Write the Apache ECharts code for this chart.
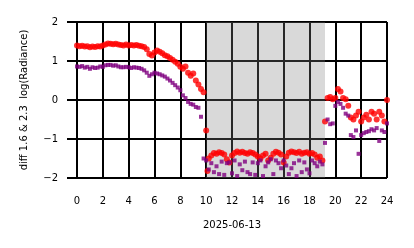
<!DOCTYPE html>
<html>
<head>
<meta charset="utf-8">
<script src="https://cdn.jsdelivr.net/npm/echarts@6/dist/echarts.min.js"></script>
<style>html,body{margin:0;padding:0;background:#fff}#c{width:414px;height:248px}</style>
</head>
<body>
<div id="c"></div>
<script>
const xAxisTitle = '2025-06-13';
const yAxisTitle = 'diff 1.6 & 2.3  log(Radiance)';
const xTicks = [0, 2, 4, 6, 8, 10, 12, 14, 16, 18, 20, 22, 24];
const yTicks = [-2, -1, 0, 1, 2];
const bandStart = 10;
const bandEnd = 19.2;

const hours = [0,0.2,0.4,0.6,0.8,1,1.2,1.4,1.6,1.8,2,2.2,2.4,2.6,2.8,3,3.2,3.4,3.6,3.8,4,4.2,4.4,4.6,4.8,5,5.2,5.4,5.6,5.8,6,6.2,6.4,6.6,6.8,7,7.2,7.4,7.6,7.8,8,8.2,8.4,8.6,8.8,9,9.2,9.4,9.6,9.8,10,10.2,10.4,10.6,10.8,11,11.2,11.4,11.6,11.8,12,12.2,12.4,12.6,12.8,13,13.2,13.4,13.6,13.8,14,14.2,14.4,14.6,14.8,15,15.2,15.4,15.6,15.8,16,16.2,16.4,16.6,16.8,17,17.2,17.4,17.6,17.8,18,18.2,18.4,18.6,18.8,19,19.2,19.4,19.6,19.8,20,20.2,20.4,20.6,20.8,21,21.2,21.4,21.6,21.8,22,22.2,22.4,22.6,22.8,23,23.2,23.4,23.6,23.8,24];

const red = [1.40,1.38,1.39,1.37,1.38,1.35,1.37,1.36,1.38,1.37,1.40,1.42,1.45,1.44,1.43,1.44,1.42,1.41,1.40,1.42,1.40,1.41,1.40,1.41,1.39,1.38,1.36,1.30,1.18,1.14,1.22,1.27,1.24,1.20,1.15,1.12,1.08,1.03,0.98,0.93,0.85,0.80,0.86,0.70,0.62,0.68,0.50,0.40,0.28,0.20,-0.78,-1.50,-1.42,-1.36,-1.38,-1.34,-1.36,-1.40,-1.52,-1.60,-1.42,-1.36,-1.32,-1.35,-1.33,-1.36,-1.38,-1.34,-1.36,-1.40,-1.45,-1.50,-1.42,-1.38,-1.55,-1.48,-1.38,-1.33,-1.35,-1.40,-1.60,-1.45,-1.35,-1.32,-1.34,-1.36,-1.33,-1.38,-1.35,-1.34,-1.38,-1.36,-1.40,-1.48,-1.45,-1.55,-0.55,0.05,0.08,0.02,0.05,0.28,0.22,0.05,0.02,-0.15,-0.45,-0.50,-0.40,-0.30,-0.55,-0.45,-0.38,-0.50,-0.30,-0.35,-0.50,-0.30,-0.40,-0.55,0.00];

const purple = [0.86,0.85,0.87,0.83,0.85,0.80,0.84,0.82,0.83,0.86,0.85,0.89,0.90,0.90,0.88,0.89,0.86,0.84,0.84,0.85,0.84,0.82,0.84,0.83,0.82,0.80,0.76,0.70,0.62,0.66,0.70,0.68,0.66,0.63,0.60,0.55,0.50,0.44,0.38,0.32,0.25,0.12,0.05,-0.05,-0.10,-0.12,-0.18,-0.20,-0.43,-1.50,-1.55,-1.78,-1.62,-1.85,-1.70,-1.90,-1.58,-1.92,-1.62,-1.60,-1.88,-1.55,-1.95,-1.65,-1.80,-1.58,-1.85,-1.90,-1.60,-1.92,-1.62,-1.55,-1.95,-1.70,-1.60,-1.52,-1.90,-1.55,-1.62,-1.75,-1.55,-1.68,-1.90,-1.75,-1.62,-1.95,-1.55,-1.85,-1.60,-1.78,-1.88,-1.55,-1.62,-1.70,-1.58,-1.65,-1.10,-0.50,-0.62,-0.60,-0.15,-0.05,-0.10,-0.20,-0.35,-0.40,-0.90,-0.95,-0.78,-1.38,-0.90,-0.85,-0.82,-0.80,-0.75,-0.78,-0.72,-1.05,-0.78,-0.82,-0.60];

const redExtraHours = [10.1];
const redExtraValues = [-1.82];

function pairs(xs, ys) { return xs.map((x, i) => [x, ys[i]]); }

const font = 'DejaVu Sans';
const chart = echarts.init(document.getElementById('c'), null, {renderer: 'canvas'});
chart.setOption({
  animation: false,
  backgroundColor: '#fff',
  grid: {left: 77, right: 27, top: 22, bottom: 70, containLabel: false},
  xAxis: {
    type: 'value', min: xTicks[0], max: xTicks[xTicks.length - 1], interval: 2,
    name: xAxisTitle, nameLocation: 'middle', nameGap: 42,
    nameTextStyle: {fontFamily: font, fontSize: 10, color: '#000'},
    axisLine: {show: true, lineStyle: {color: '#000', width: 2}},
    axisTick: {show: true, length: 8, lineStyle: {color: '#000', width: 2}},
    axisLabel: {fontFamily: font, fontSize: 10, color: '#000', margin: 18},
    splitLine: {show: true, lineStyle: {color: '#000', width: 2}}
  },
  yAxis: {
    type: 'value', min: yTicks[0], max: yTicks[yTicks.length - 1], interval: 1,
    name: yAxisTitle, nameLocation: 'middle', nameGap: 48,
    nameTextStyle: {fontFamily: font, fontSize: 10, color: '#000'},
    axisLine: {show: true, lineStyle: {color: '#000', width: 2}},
    axisTick: {show: true, length: 10, lineStyle: {color: '#000', width: 2}},
    axisLabel: {fontFamily: font, fontSize: 10, color: '#000', margin: 19,
      formatter: v => v < 0 ? '\u2212' + (-v) : String(v)},
    splitLine: {show: true, lineStyle: {color: '#000', width: 2}}
  },
  series: [
    {type: 'scatter', name: 'red', data: pairs(hours, red).concat(pairs(redExtraHours, redExtraValues)),
     symbol: 'circle', symbolSize: 6, itemStyle: {color: '#ff0000'}, z: 2, clip: true},
    {type: 'scatter', name: 'purple', data: pairs(hours, purple),
     symbol: 'rect', symbolSize: 4, itemStyle: {color: '#800080'}, z: 3, clip: true},
    {type: 'scatter', name: 'band', data: [], z: 10, silent: true,
     markArea: {silent: true, itemStyle: {color: 'rgba(128,128,128,0.3)'},
       data: [[{xAxis: bandStart}, {xAxis: bandEnd}]]}}
  ]
});
</script>
</body>
</html>
